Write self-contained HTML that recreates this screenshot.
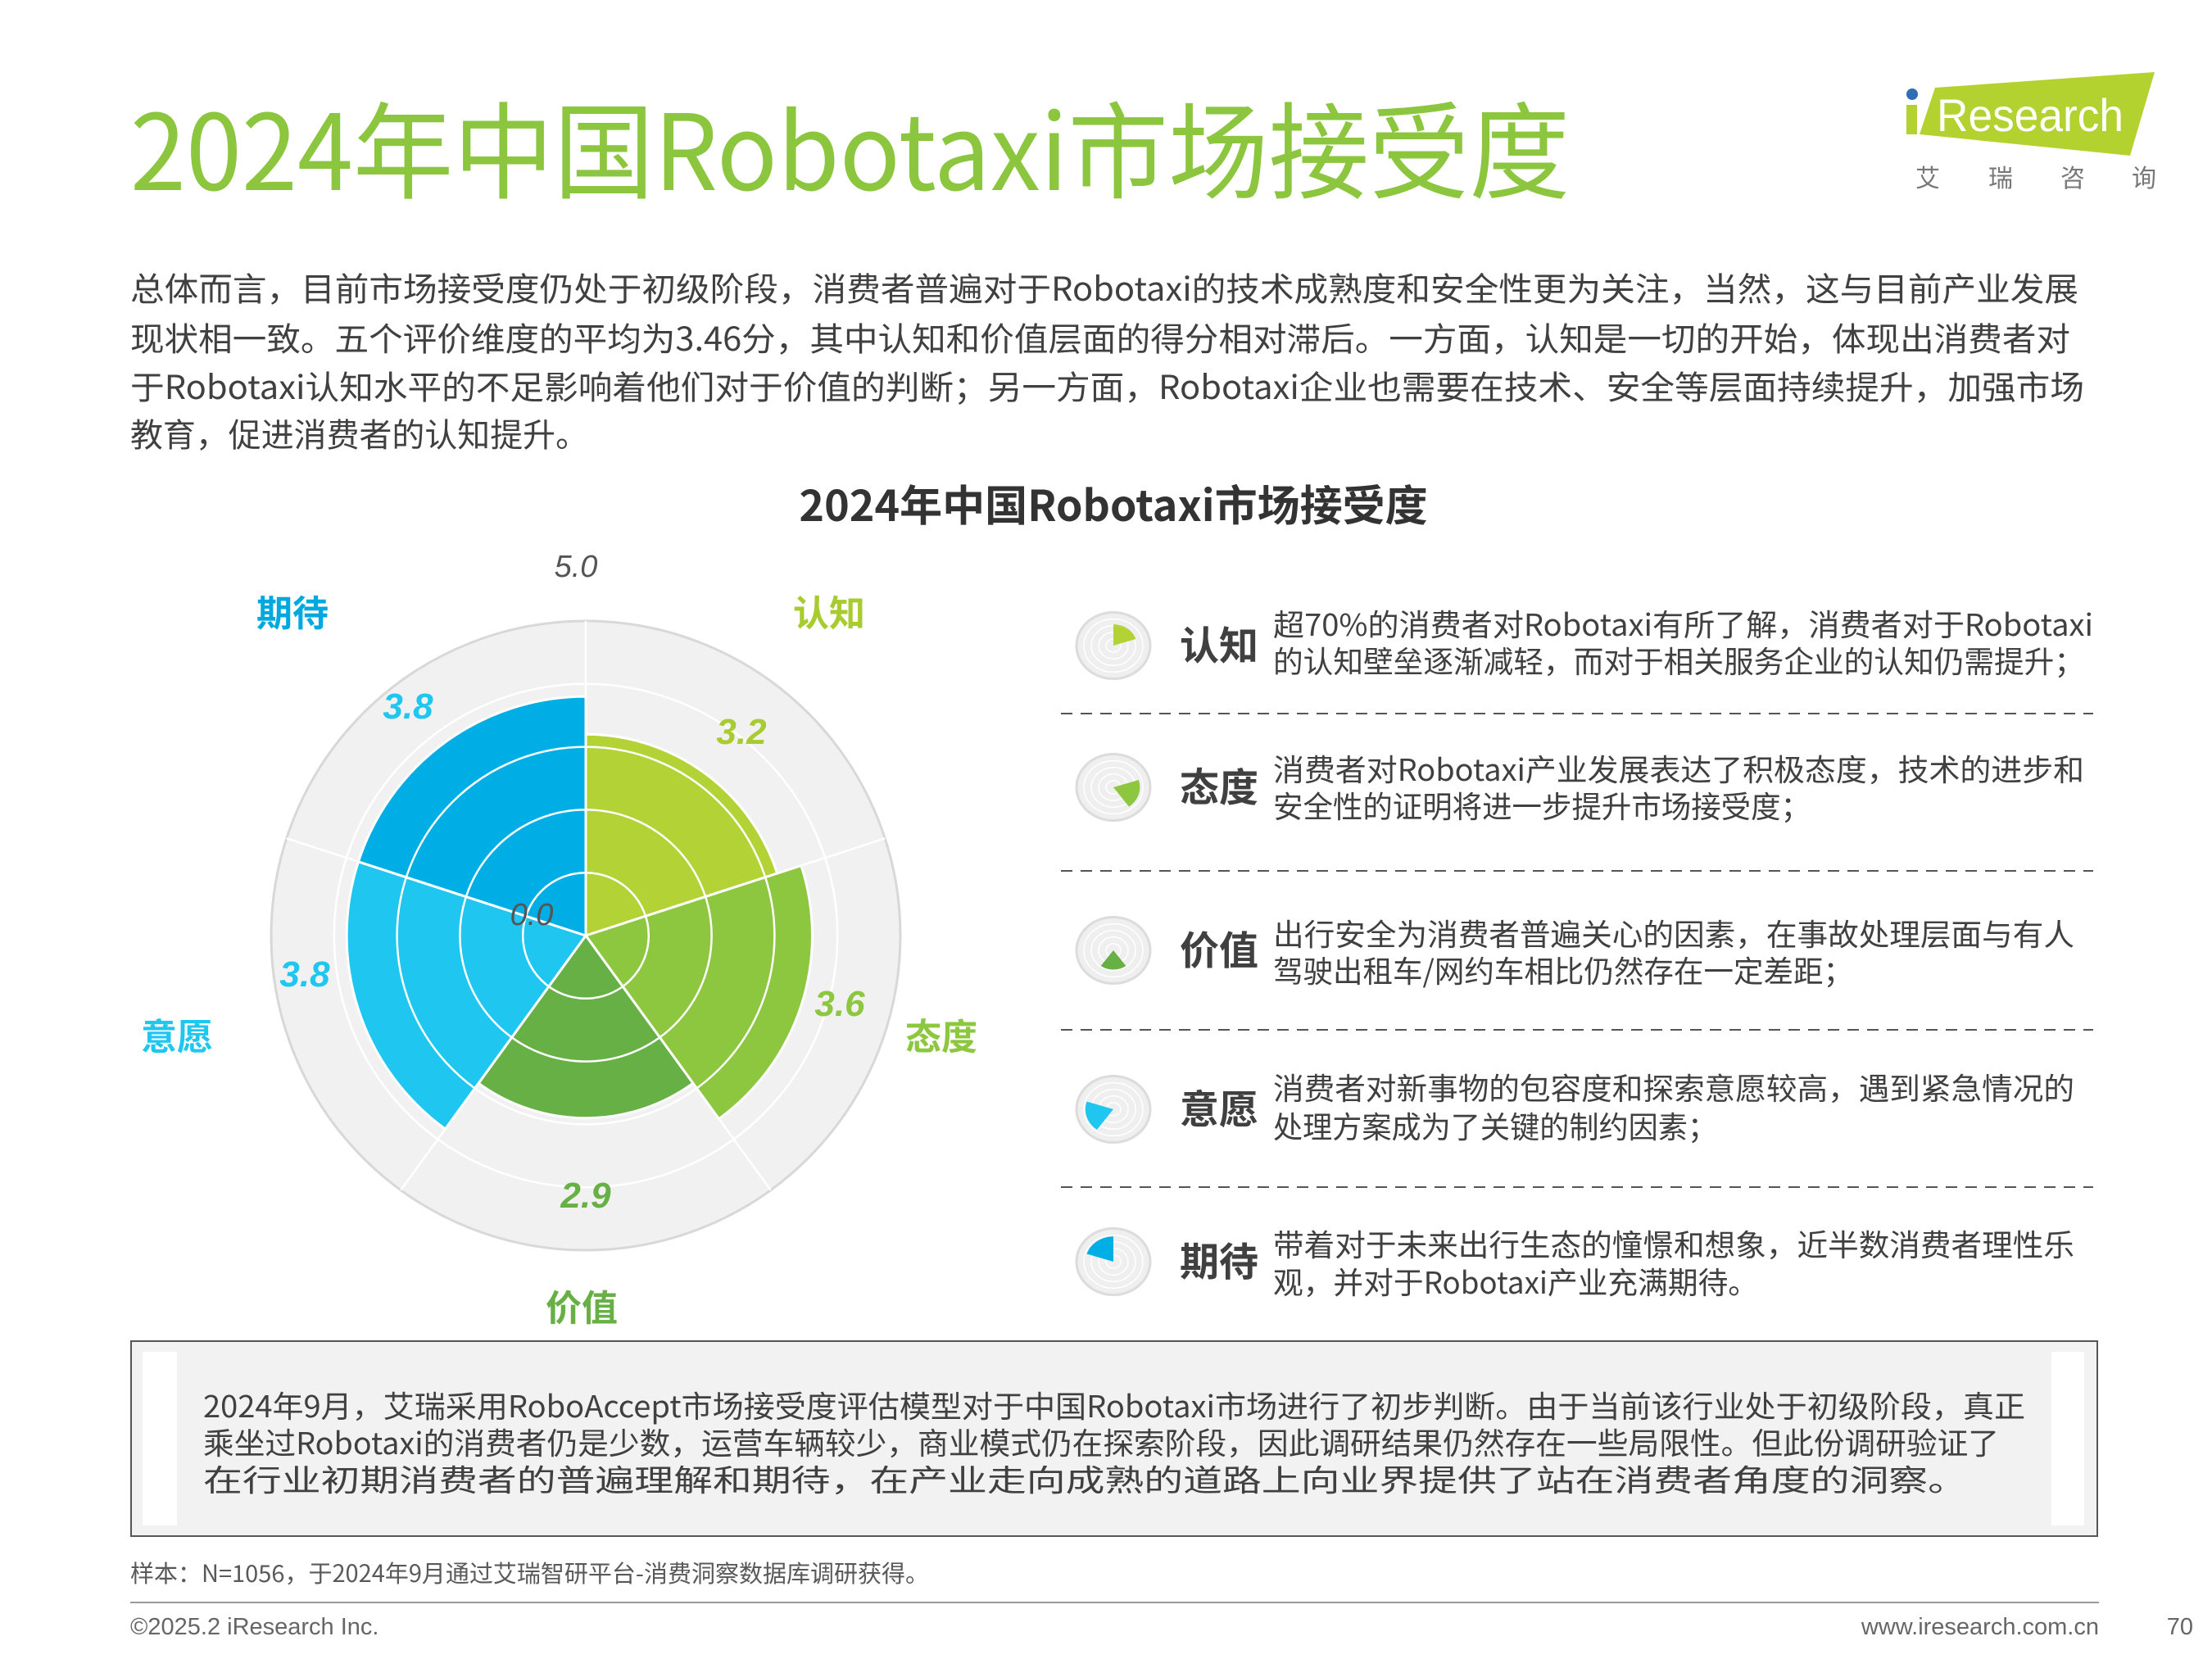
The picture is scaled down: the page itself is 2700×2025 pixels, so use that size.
<!DOCTYPE html>
<html><head><meta charset="utf-8">
<style>
html,body{margin:0;padding:0;background:#fff;}
svg{display:block;font-family:"Liberation Sans","Noto Sans CJK SC",sans-serif;}
.cj{font-family:"Noto Sans CJK SC","Liberation Sans",sans-serif;}
</style></head>
<body>
<svg id="page" width="2700" height="2025" viewBox="0 0 2700 2025" xmlns="http://www.w3.org/2000/svg">
  <text class="cj" x="159" y="232" font-size="128" fill="#8cc63f" textLength="1757" lengthAdjust="spacingAndGlyphs">2024年中国Robotaxi市场接受度</text>

  <g>
    <polygon points="2362,107 2630,88 2600,190 2343,164" fill="#b3d22f"/>
    <circle cx="2334" cy="115" r="7" fill="#2f6db5"/>
    <rect x="2327" y="128" width="13" height="36" fill="#b3d22f"/>
    <text x="2364" y="160" font-size="56" fill="#fff" textLength="228" lengthAdjust="spacingAndGlyphs">Research</text>
    <text class="cj" x="2338" y="228" font-size="30" fill="#777">艾</text>
    <text class="cj" x="2427" y="228" font-size="30" fill="#777">瑞</text>
    <text class="cj" x="2515" y="228" font-size="30" fill="#777">咨</text>
    <text class="cj" x="2602" y="228" font-size="30" fill="#777">询</text>
  </g>

  <g class="cj" font-size="40" fill="#404040">
    <text x="159" y="367" textLength="2378" lengthAdjust="spacingAndGlyphs">总体而言，目前市场接受度仍处于初级阶段，消费者普遍对于Robotaxi的技术成熟度和安全性更为关注，当然，这与目前产业发展</text>
    <text x="159" y="428" textLength="2368" lengthAdjust="spacingAndGlyphs">现状相一致。五个评价维度的平均为3.46分，其中认知和价值层面的得分相对滞后。一方面，认知是一切的开始，体现出消费者对</text>
    <text x="159" y="487" textLength="2385" lengthAdjust="spacingAndGlyphs">于Robotaxi认知水平的不足影响着他们对于价值的判断；另一方面，Robotaxi企业也需要在技术、安全等层面持续提升，加强市场</text>
    <text x="159" y="545" textLength="559" lengthAdjust="spacingAndGlyphs">教育，促进消费者的认知提升。</text>
  </g>

  <text class="cj" x="1359" y="636" font-size="52" font-weight="bold" fill="#333" text-anchor="middle">2024年中国Robotaxi市场接受度</text>

  <g id="chart"></g>
  <g id="icons"></g>

  <g stroke="#555" stroke-width="2" stroke-dasharray="14,10">
    <line x1="1295" y1="871" x2="2555" y2="871"/>
    <line x1="1295" y1="1063" x2="2555" y2="1063"/>
    <line x1="1295" y1="1257" x2="2555" y2="1257"/>
    <line x1="1295" y1="1449" x2="2555" y2="1449"/>
  </g>

  <g class="cj" font-size="37" fill="#404040">
    <text x="1554" y="776" textLength="1001" lengthAdjust="spacingAndGlyphs">超70%的消费者对Robotaxi有所了解，消费者对于Robotaxi</text>
    <text x="1554" y="821" textLength="990" lengthAdjust="spacingAndGlyphs">的认知壁垒逐渐减轻，而对于相关服务企业的认知仍需提升；</text>
    <text x="1554" y="953" textLength="990" lengthAdjust="spacingAndGlyphs">消费者对Robotaxi产业发展表达了积极态度，技术的进步和</text>
    <text x="1554" y="998" textLength="656" lengthAdjust="spacingAndGlyphs">安全性的证明将进一步提升市场接受度；</text>
    <text x="1554" y="1154" textLength="978" lengthAdjust="spacingAndGlyphs">出行安全为消费者普遍关心的因素，在事故处理层面与有人</text>
    <text x="1554" y="1199" textLength="708" lengthAdjust="spacingAndGlyphs">驾驶出租车/网约车相比仍然存在一定差距；</text>
    <text x="1554" y="1342" textLength="978" lengthAdjust="spacingAndGlyphs">消费者对新事物的包容度和探索意愿较高，遇到紧急情况的</text>
    <text x="1554" y="1389" textLength="542" lengthAdjust="spacingAndGlyphs">处理方案成为了关键的制约因素；</text>
    <text x="1554" y="1533" textLength="978" lengthAdjust="spacingAndGlyphs">带着对于未来出行生态的憧憬和想象，近半数消费者理性乐</text>
    <text x="1554" y="1579" textLength="592" lengthAdjust="spacingAndGlyphs">观，并对于Robotaxi产业充满期待。</text>
  </g>

  <g>
    <rect x="160" y="1637" width="2400" height="238" fill="#f2f2f2" stroke="#555" stroke-width="2"/>
    <rect x="174" y="1650" width="42" height="212" fill="#fff"/>
    <rect x="2504" y="1650" width="40" height="212" fill="#fff"/>
    <g class="cj" font-size="37" fill="#404040">
      <text x="248" y="1730" textLength="2224" lengthAdjust="spacingAndGlyphs">2024年9月，艾瑞采用RoboAccept市场接受度评估模型对于中国Robotaxi市场进行了初步判断。由于当前该行业处于初级阶段，真正</text>
      <text x="248" y="1775" textLength="2192" lengthAdjust="spacingAndGlyphs">乘坐过Robotaxi的消费者仍是少数，运营车辆较少，商业模式仍在探索阶段，因此调研结果仍然存在一些局限性。但此份调研验证了</text>
      <text x="248" y="1820" textLength="2153" lengthAdjust="spacingAndGlyphs">在行业初期消费者的普遍理解和期待，在产业走向成熟的道路上向业界提供了站在消费者角度的洞察。</text>
    </g>
  </g>

  <text class="cj" x="159" y="1931" font-size="29" fill="#595959">样本：N=1056，于2024年9月通过艾瑞智研平台-消费洞察数据库调研获得。</text>
  <line x1="159" y1="1956" x2="2562" y2="1956" stroke="#999" stroke-width="2"/>
  <text x="159" y="1995" font-size="29" fill="#666">©2025.2 iResearch Inc.</text>
  <text x="2562" y="1995" font-size="29" fill="#666" text-anchor="end">www.iresearch.com.cn</text>
  <text x="2677" y="1995" font-size="29" fill="#666" text-anchor="end">70</text>
</svg>

<script>
const categories = ["认知", "态度", "价值", "意愿", "期待"];
const values = [3.2, 3.6, 2.9, 3.8, 3.8];
const sliceColors = ["#b2d235", "#8dc63f", "#66b045", "#1fc6f0", "#00aee6"];
const labelColors = ["#a8cb2f", "#8dc63f", "#66b045", "#1fc6f0", "#00a8e0"];
const valueColors = ["#a8cb2f", "#8dc63f", "#66b045", "#1fc6f0", "#1fc6f0"];
const ringTicks = [1, 2, 3, 4];
const axisMax = 5;
const axisMaxLabel = "5.0";
const axisMinLabel = "0.0";

// layout: category label anchor positions and value-label anchor positions (pixels)
const catLabelLayout = [[1012, 748], [1149, 1265], [710, 1596], [216, 1265], [357, 748]];
const valLabelLayout = [[905, 893], [1025, 1225], [715, 1459], [372, 1189], [498, 862]];

const NS = "http://www.w3.org/2000/svg";
function mk(tag, attrs, parent){
  const e = document.createElementNS(NS, tag);
  for (const k in attrs) e.setAttribute(k, attrs[k]);
  parent.appendChild(e);
  return e;
}
const CX = 715, CY = 1142, R = 384;
function rScale(v){ return v / axisMax * R; }
function ang(i){ return i * 72; }
function pt(cx, cy, r, deg, sy){ const a = deg * Math.PI / 180; return [cx + r * Math.sin(a), cy - r * Math.cos(a) * (sy || 1)]; }
function sector(cx, cy, r, a0, a1, sy){
  const p0 = pt(cx, cy, r, a0, sy), p1 = pt(cx, cy, r, a1, sy);
  return `M${cx},${cy} L${p0[0]},${p0[1]} A${r},${r*(sy||1)} 0 0 1 ${p1[0]},${p1[1]} Z`;
}

const chart = document.getElementById('chart');
const bg = mk('circle', {cx: CX, cy: CY, r: R, fill: '#f1f1f1', stroke: '#d8d8d8', 'stroke-width': 3}, chart);


values.forEach((v, i) => {
  const p = mk('path', {d: sector(CX, CY, rScale(v), ang(i), ang(i + 1)), fill: sliceColors[i], stroke: '#fff', 'stroke-width': 3}, chart);
  
  
});
ringTicks.forEach(t => {
  const c = mk('circle', {cx: CX, cy: CY, r: rScale(t), fill: 'none', stroke: '#fff', 'stroke-width': 2.5}, chart);
  
  
});
categories.forEach((c, i) => {
  const p = pt(CX, CY, R, ang(i));
  const l = mk('line', {x1: CX, y1: CY, x2: p[0], y2: p[1], stroke: '#fff', 'stroke-width': 2.5}, chart);
  
  
});
const t5 = mk('text', {x: CX - 12, y: 704, 'font-size': 38, 'font-style': 'italic', fill: '#555', 'text-anchor': 'middle'}, chart);
t5.textContent = axisMaxLabel;


const t0 = mk('text', {x: CX - 66, y: 1129, 'font-size': 38, 'font-style': 'italic', fill: '#555', 'text-anchor': 'middle'}, chart);
t0.textContent = axisMinLabel;


values.forEach((v, i) => {
  const p = valLabelLayout[i];
  const t = mk('text', {x: p[0], y: p[1] + 15, 'font-size': 44, 'font-weight': 'bold', 'font-style': 'italic', fill: valueColors[i], 'text-anchor': 'middle'}, chart);
  t.textContent = v.toFixed(1);
  
  
  const q = catLabelLayout[i];
  const ct = mk('text', {x: q[0], y: q[1] + 16, 'font-size': 44, 'font-weight': 'bold', fill: labelColors[i], 'text-anchor': 'middle', 'class': 'cj'}, chart);
  ct.textContent = categories[i];
  
  
});

const icons = document.getElementById('icons');
const iconY = [788, 961, 1160, 1354, 1540];
categories.forEach((c, i) => {
  const g = mk('g', {}, icons);
  
  
  const ix = 1359, iy = iconY[i], ir = 45, sy = 0.9;
  const e = mk('ellipse', {cx: ix, cy: iy, rx: ir, ry: ir * sy, fill: '#efefef', stroke: '#dcdcdc', 'stroke-width': 3}, g);
  
  
  ringTicks.forEach(t => {
    const rr = mk('ellipse', {cx: ix, cy: iy, rx: ir * t / axisMax, ry: ir * sy * t / axisMax, fill: 'none', stroke: '#fff', 'stroke-width': 1.5}, g);
    
    
  });
  const s = mk('path', {d: sector(ix, iy, ir * values[i] / axisMax, ang(i), ang(i + 1), sy), fill: sliceColors[i]}, g);
  
  
  const lt = mk('text', {x: 1440, y: iy + 17, 'font-size': 48, 'font-weight': 'bold', fill: '#404040', 'class': 'cj'}, g);
  lt.textContent = c;
  
  
});
</script>
</body></html>
